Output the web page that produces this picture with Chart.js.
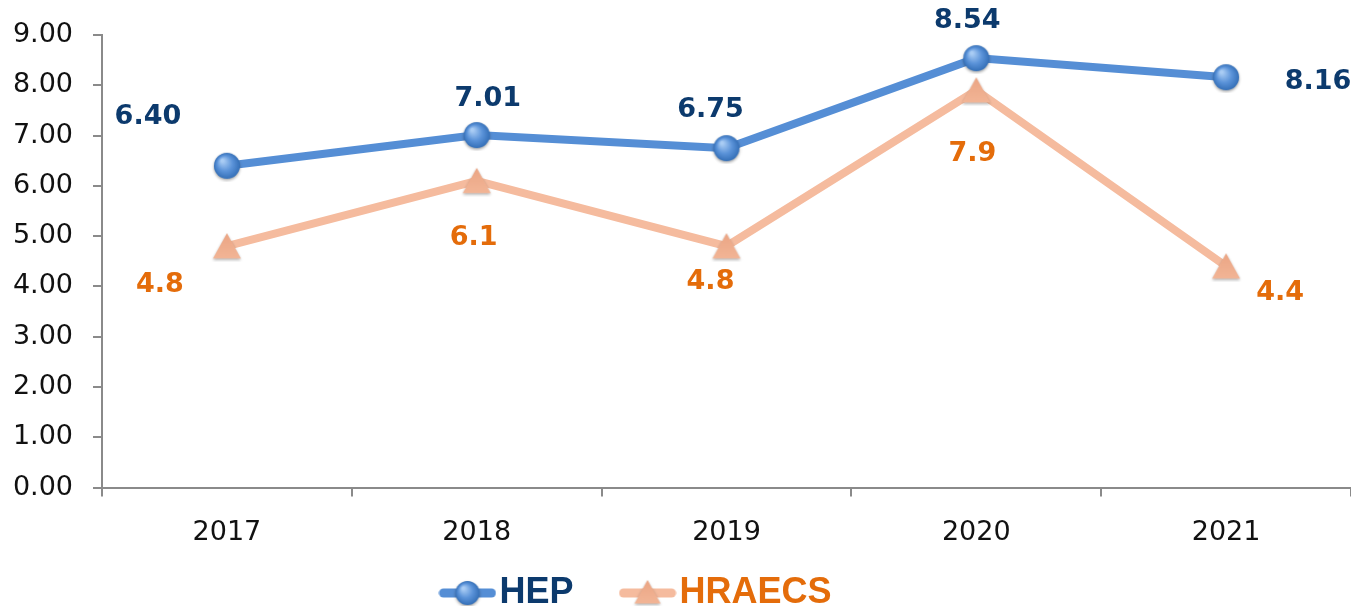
<!DOCTYPE html>
<html>
<head>
<meta charset="utf-8">
<script src="https://cdn.jsdelivr.net/npm/chart.js@4.4.1/dist/chart.umd.min.js"></script>
<style>
  html, body { margin: 0; padding: 0; background: #ffffff; overflow: hidden; }
  #wrap { position: relative; width: 1351px; height: 675px; }
</style>
</head>
<body>
<div id="wrap"><canvas id="c"></canvas></div>
<script>
// ---- data ----
const categories = ['2017', '2018', '2019', '2020', '2021'];
const hepValues = [6.40, 7.01, 6.75, 8.54, 8.16];
const hraecsValues = [4.8, 6.1, 4.8, 7.9, 4.4];
const hepLabels = ['6.40', '7.01', '6.75', '8.54', '8.16'];
const hraecsLabels = ['4.8', '6.1', '4.8', '7.9', '4.4'];
const seriesNames = ['HEP', 'HRAECS'];
const yTicks = [0, 1, 2, 3, 4, 5, 6, 7, 8, 9];

// ---- styles ----
const HEP_LINE = '#558ED5';
const HRA_LINE = '#F5BB9E';
const HEP_TEXT = '#0C3A6D';
const HRA_TEXT = '#E46C0A';
const AXIS = '#8a8a8a';

// label offsets relative to each point (pixels)
const hepLabelOffsets = [[-79, -49], [11, -36], [-16, -38], [-9, -37], [92, 5]];
const hraLabelOffsets = [[-67, 39], [-3, 57], [-16, 36], [-4, 64], [54, 27]];

// let the plot area reach the right edge like the reference (no automatic overflow padding)
Chart.LineController.prototype.getMaxOverflow = function () { return 0; };

function makeCircle(r) {
  const c = document.createElement('canvas');
  const s = r * 2 + 6;
  c.width = s; c.height = s;
  const g = c.getContext('2d');
  const cx = s / 2, cy = s / 2;
  g.shadowColor = 'rgba(0,0,0,0.35)';
  g.shadowBlur = 3; g.shadowOffsetY = 1.5;
  const grad = g.createRadialGradient(cx - r * 0.35, cy - r * 0.4, r * 0.1, cx, cy, r);
  grad.addColorStop(0, '#A9CCF4');
  grad.addColorStop(0.55, '#5B93D9');
  grad.addColorStop(1, '#3570B8');
  g.fillStyle = grad;
  g.beginPath(); g.arc(cx, cy, r, 0, Math.PI * 2); g.fill();
  return c;
}
function makeTriangle(w) {
  const h = w * 0.9;
  const c = document.createElement('canvas');
  c.width = w + 6; c.height = Math.ceil(h) + 6;
  const g = c.getContext('2d');
  g.shadowColor = 'rgba(0,0,0,0.3)';
  g.shadowBlur = 3; g.shadowOffsetY = 1.5;
  const grad = g.createLinearGradient(0, 3, 0, h + 3);
  grad.addColorStop(0, '#EBA584');
  grad.addColorStop(1, '#F2B596');
  g.fillStyle = grad;
  g.beginPath();
  g.moveTo(c.width / 2, 3);
  g.lineTo(3 + w, 3 + h);
  g.lineTo(3, 3 + h);
  g.closePath(); g.fill();
  return c;
}
function makeLegendIcon(kind) {
  const c = document.createElement('canvas');
  c.width = 58; c.height = 32;
  const g = c.getContext('2d');
  g.lineCap = 'round';
  g.lineWidth = 9;
  g.strokeStyle = kind === 'circle' ? HEP_LINE : HRA_LINE;
  g.beginPath(); g.moveTo(5, 16); g.lineTo(53, 16); g.stroke();
  const m = kind === 'circle' ? makeCircle(12) : makeTriangle(26);
  g.drawImage(m, 29 - m.width / 2, 16 - m.height / 2 + (kind === 'circle' ? 0 : -1));
  return c;
}

const circleImg = makeCircle(13);
const triImg = makeTriangle(28);
const legendIcons = [makeLegendIcon('circle'), makeLegendIcon('triangle')];
const legendTextColors = [HEP_TEXT, HRA_TEXT];

const valueLabelPlugin = {
  id: 'valueLabels',
  afterDatasetsDraw(chart) {
    const ctx = chart.ctx;
    const sets = [
      { labels: hepLabels, offs: hepLabelOffsets, color: HEP_TEXT },
      { labels: hraecsLabels, offs: hraLabelOffsets, color: HRA_TEXT }
    ];
    ctx.save();
    ctx.font = 'bold 27px "DejaVu Sans"';
    ctx.textAlign = 'center';
    ctx.textBaseline = 'middle';
    sets.forEach((s, di) => {
      const meta = chart.getDatasetMeta(di);
      meta.data.forEach((pt, i) => {
        ctx.fillStyle = s.color;
        ctx.fillText(s.labels[i], pt.x + s.offs[i][0], pt.y + s.offs[i][1]);
      });
    });
    ctx.restore();
  }
};

const LEGEND_SHIFT_X = -33;
const LEGEND_SHIFT_Y = -54;
const legendShiftPlugin = {
  id: 'legendShift',
  afterLayout(chart) {
    const l = chart.legend;
    if (!l) return;
    l.left += LEGEND_SHIFT_X; l.right += LEGEND_SHIFT_X;
    l.top += LEGEND_SHIFT_Y; l.bottom += LEGEND_SHIFT_Y;
  }
};

new Chart(document.getElementById('c'), {
  type: 'line',
  data: {
    labels: categories,
    datasets: [
      {
        label: seriesNames[0],
        data: hepValues,
        borderColor: HEP_LINE,
        backgroundColor: HEP_LINE,
        borderWidth: 8,
        pointStyle: circleImg,
        pointRadius: 13,
        pointBorderWidth: 0,
        tension: 0,
        fill: false,
        clip: false
      },
      {
        label: seriesNames[1],
        data: hraecsValues,
        borderColor: HRA_LINE,
        backgroundColor: HRA_LINE,
        borderWidth: 8,
        pointStyle: triImg,
        pointRadius: 13,
        pointBorderWidth: 0,
        tension: 0,
        fill: false,
        clip: false
      }
    ]
  },
  options: {
    responsive: true,
    maintainAspectRatio: false,
    animation: false,
    events: [],
    layout: { padding: { left: 0, right: 0, top: 35, bottom: 0 } },
    plugins: {
      tooltip: { enabled: false },
      legend: {
        position: 'bottom',
        labels: {
          usePointStyle: true,
          pointStyleWidth: 28,
          boxHeight: 36,
          padding: 60,
          font: { family: '"Liberation Sans", Arial, sans-serif', size: 36, weight: 'bold' },
          generateLabels(chart) {
            return chart.data.datasets.map((ds, i) => ({
              text: ds.label,
              pointStyle: legendIcons[i],
              fontColor: legendTextColors[i],
              fillStyle: 'transparent',
              strokeStyle: 'transparent',
              lineWidth: 0,
              hidden: false,
              datasetIndex: i
            }));
          }
        }
      }
    },
    scales: {
      x: {
        type: 'category',
        offset: true,
        afterFit(axis) { axis.paddingLeft = 0; axis.paddingRight = 0; },
        grid: { display: true, offset: true, drawOnChartArea: false, drawTicks: true, tickLength: 9, color: AXIS, lineWidth: 2 },
        border: { display: true, color: AXIS, width: 2 },
        ticks: { color: '#111111', padding: 20, font: { family: '"DejaVu Sans"', size: 27 } }
      },
      y: {
        min: 0,
        max: 9,
        afterBuildTicks(axis) { axis.ticks = yTicks.map(v => ({ value: v })); },
        afterFit(axis) { axis.width = 102; axis.paddingTop = 0; axis.paddingBottom = 0; },
        grid: { display: true, drawOnChartArea: false, drawTicks: true, tickLength: 9, color: AXIS, lineWidth: 2 },
        border: { display: true, color: AXIS, width: 2 },
        ticks: {
          color: '#111111',
          padding: 20,
          font: { family: '"DejaVu Sans"', size: 27 },
          callback: v => Number(v).toFixed(2)
        }
      }
    }
  },
  plugins: [valueLabelPlugin, legendShiftPlugin]
});
</script>
</body>
</html>
